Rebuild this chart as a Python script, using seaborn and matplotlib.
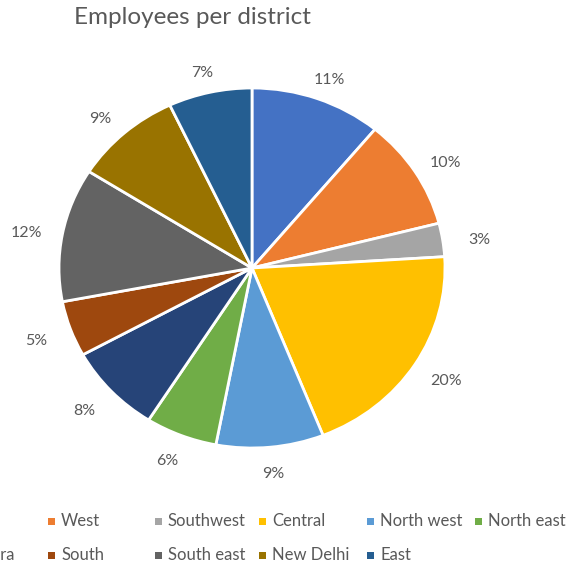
import matplotlib
matplotlib.use("Agg")
import matplotlib.pyplot as plt
import seaborn as sns
from matplotlib.patches import Rectangle

sns.set_theme(style="white")
plt.rcParams['font.family'] = ['Lato', 'DejaVu Sans']

districts = ["North", "West", "Southwest", "Central", "North west", "North east",
             "Shahdara", "South", "South east", "New Delhi", "East"]
shares = [11, 10, 3, 20, 9, 6, 8, 5, 12, 9, 7]
colors = ["#4472C4", "#ED7D31", "#A5A5A5", "#FFC000", "#5B9BD5", "#70AD47",
          "#264478", "#9E480E", "#636363", "#997300", "#255E91"]
title = "Employees per district"

W, H = 571, 564
fig = plt.figure(figsize=(W / 100, H / 100), dpi=100)
ax = fig.add_axes([0, 0, 1, 1])

cx, cy, rx, ry = 252, 268, 193, 180
wedges, texts, autotexts = ax.pie(
    shares, colors=colors, startangle=90, counterclock=False,
    autopct='%1.0f%%', pctdistance=1.19,
    wedgeprops=dict(edgecolor="white", linewidth=2),
    textprops=dict(color="#595959", fontsize=11.5))
# Excel-like placement: labels sit a bit flatter around the pie
for t in autotexts:
    x, y = t.get_position()
    t.set_position((x, y * 0.95 - 0.02))
ax.set_aspect('auto')
ax.set_xlim(-cx / rx, (W - cx) / rx)
ax.set_ylim((cy - H) / ry, cy / ry)
ax.axis('off')

fig.text(192 / W, 1 - 18 / H, title, ha="center", va="center",
         fontsize=17.5, color="#595959")

# legend (two rows, Excel-like column positions)
col_x = [-62, 51, 158, 262, 370, 478]
row_y = [521, 555]
for i, (name, c) in enumerate(zip(districts, colors)):
    r, k = divmod(i, 6)
    mx, my = col_x[k], row_y[r]
    fig.patches.append(Rectangle(((mx - 3.5) / W, 1 - (my + 3.5) / H), 7 / W, 7 / H,
                                 transform=fig.transFigure, facecolor=c,
                                 edgecolor="none", figure=fig))
    fig.text((mx + 10) / W, 1 - my / H, name, ha="left", va="center",
             fontsize=12, color="#595959")

fig.savefig("out.png", dpi=100)
